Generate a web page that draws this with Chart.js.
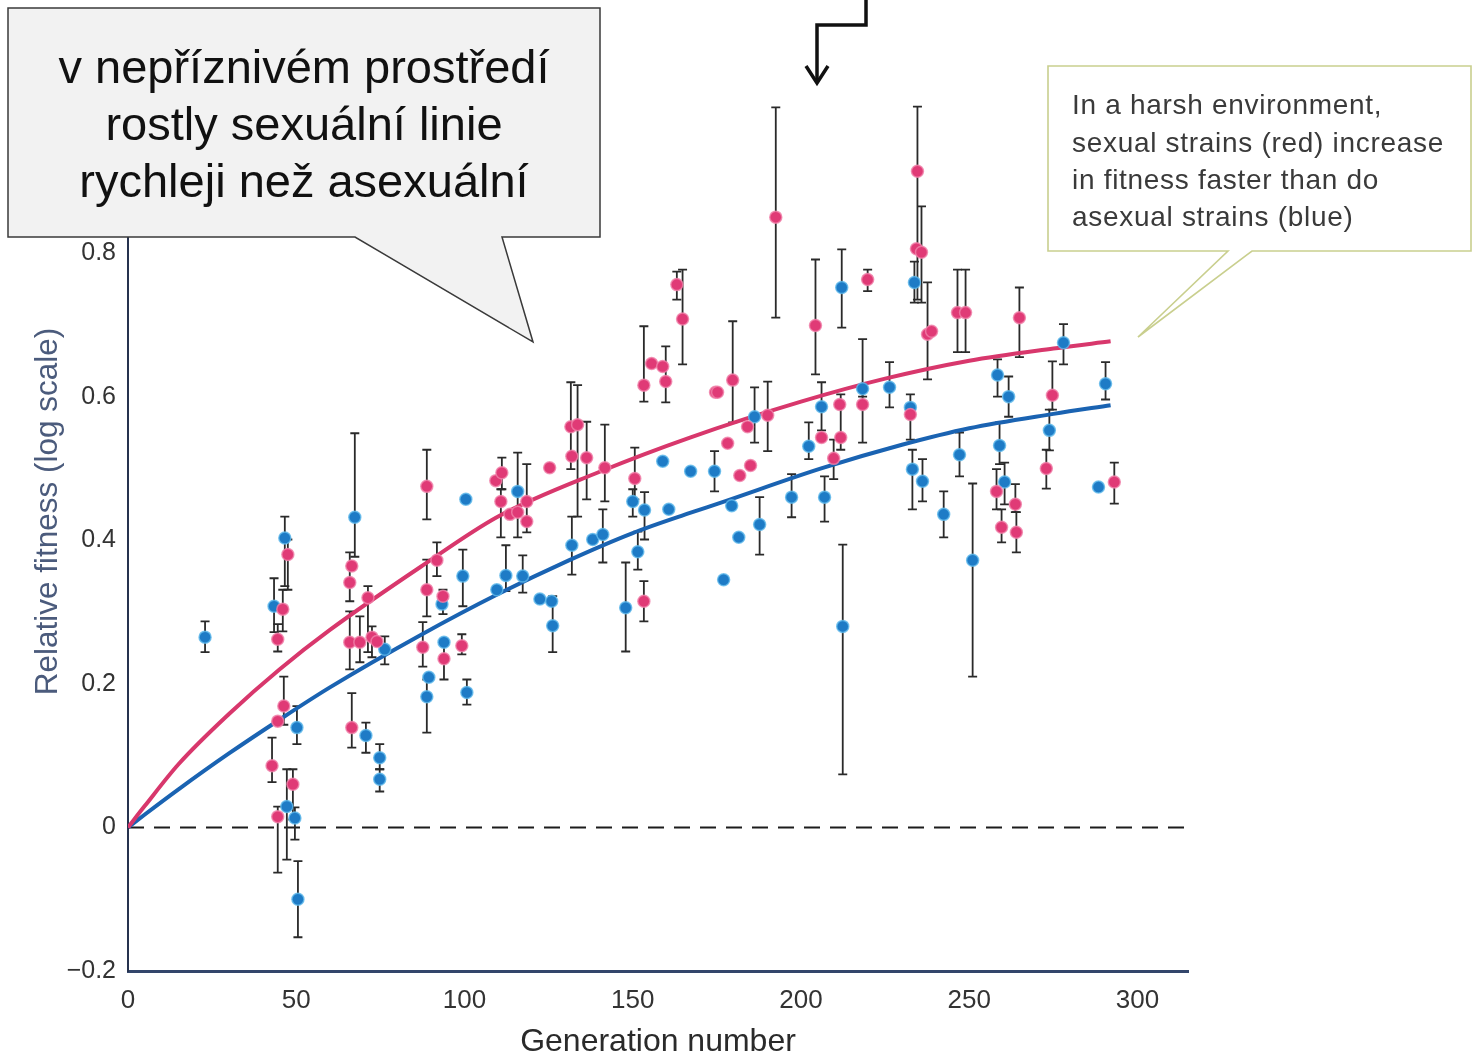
<!DOCTYPE html>
<html>
<head>
<meta charset="utf-8">
<title>Relative fitness vs generation</title>
<script src="https://cdn.jsdelivr.net/npm/chart.js@4.4.1/dist/chart.umd.min.js"></script>
<style>
  html, body { margin: 0; padding: 0; background: #fff; }
  #wrap { position: relative; width: 1473px; height: 1058px; overflow: hidden; }
  #wrap canvas { position: absolute; left: 0; top: 0; }
  #notes { position: absolute; left: 0; top: 0; pointer-events: none; }
</style>
</head>
<body>
<div id="wrap">
  <canvas id="fitnessChart" width="1473" height="1058"></canvas>
  <svg id="notes" width="1473" height="1058" xmlns="http://www.w3.org/2000/svg">
    <!-- arrow from the slide above -->
    <polyline points="866,0 866,25 817,25 817,82" fill="none" stroke="#111" stroke-width="3.5"/>
    <polyline points="806,66 817,83 828,66" fill="none" stroke="#111" stroke-width="3.5"/>

    <!-- Czech callout -->
    <path d="M8,8 L600,8 L600,237 L502,237 L533,342 L355,237 L8,237 Z" fill="#f2f2f2" stroke="#3a3a3a" stroke-width="1.5"/>
    <g font-family="'Liberation Sans', Arial, sans-serif" font-size="47" fill="#111" text-anchor="middle">
      <text x="304" y="83">v nepříznivém prostředí</text>
      <text x="304" y="140">rostly sexuální linie</text>
      <text x="304" y="197">rychleji než asexuální</text>
    </g>

    <!-- original caption -->
    <path d="M1048,66 L1471,66 L1471,251 L1252,251 L1138,337 L1228,251 L1048,251 Z" fill="#fff" stroke="#c9cf8e" stroke-width="1.6"/>
    <g font-family="'Liberation Sans', Arial, sans-serif" font-size="28" letter-spacing="0.7" fill="#3a3a3a">
      <text x="1072" y="114">In a harsh environment,</text>
      <text x="1072" y="152">sexual strains (red) increase</text>
      <text x="1072" y="189">in fitness faster than do</text>
      <text x="1072" y="226">asexual strains (blue)</text>
    </g>
  </svg>
</div>
<script>
// sexual strains (red): generation, fitness, error bar low / high
const sexGen  = [46.0, 44.5, 47.5, 46.3, 44.5, 42.8, 49.0, 44.5, 66.5, 65.9, 71.3, 65.9, 68.9, 72.5, 74.0, 66.5,
                 88.8, 88.8, 87.6, 91.8, 93.6, 93.9, 99.2, 109.3, 111.1, 110.8, 113.5, 115.8, 118.5, 118.5, 125.3,
                 131.6, 133.6, 131.9, 136.3, 141.7, 150.6, 153.3, 155.6, 153.3, 158.9, 159.8, 164.8, 163.1, 174.6,
                 192.5, 234.6, 234.3, 235.8, 219.8, 204.3, 237.6, 238.8, 246.5, 248.9, 179.7, 175.2, 184.1, 178.2,
                 181.8, 185.0, 190.1, 206.1, 211.5, 211.8, 209.7, 218.3, 232.5, 264.9, 274.7, 272.9, 293.1, 258.1,
                 263.7, 259.6, 264.0];
const sexFit  = [0.304, 0.262, 0.380, 0.169, 0.148, 0.086, 0.060, 0.015, 0.364, 0.341, 0.320, 0.258, 0.258, 0.265, 0.259, 0.139,
                 0.475, 0.331, 0.251, 0.372, 0.322, 0.235, 0.253, 0.483, 0.494, 0.454, 0.436, 0.439, 0.454, 0.426, 0.501,
                 0.558, 0.561, 0.517, 0.515, 0.501, 0.486, 0.315, 0.646, 0.616, 0.642, 0.621, 0.708, 0.756, 0.606,
                 0.850, 0.914, 0.806, 0.801, 0.763, 0.699, 0.687, 0.691, 0.717, 0.717, 0.623, 0.606, 0.558, 0.535,
                 0.490, 0.504, 0.574, 0.543, 0.589, 0.543, 0.514, 0.589, 0.575, 0.710, 0.602, 0.500, 0.481, 0.468,
                 0.450, 0.418, 0.411];
const sexLow  = [0.273, 0.245, 0.331, 0.143, null, 0.063, 0.011, -0.063, null, 0.315, 0.244, 0.220, 0.230, 0.237, null, 0.111,
                 0.429, 0.294, 0.224, 0.350, 0.297, 0.206, 0.241, null, 0.471, 0.404, null, null, 0.411, null, null,
                 0.499, 0.433, null, 0.457, 0.454, 0.457, 0.287, null, 0.593, null, 0.592, 0.645, 0.735, null,
                 0.710, 0.735, null, 0.731, 0.747, 0.631, 0.624, null, 0.662, 0.662, 0.564, null, null, null,
                 null, null, 0.524, null, null, 0.526, 0.485, 0.536, 0.540, 0.655, 0.582, 0.472, 0.451, 0.443,
                 0.439, 0.397, 0.383];
const sexHigh = [0.331, 0.283, 0.401, 0.210, null, 0.125, 0.081, 0.029, null, 0.383, 0.336, 0.301, 0.294, 0.280, null, 0.187,
                 0.526, 0.373, 0.286, 0.397, 0.331, 0.262, 0.269, null, 0.515, 0.471, null, null, 0.506, null, null,
                 0.620, 0.616, null, 0.565, 0.561, 0.529, 0.343, null, 0.698, null, 0.670, 0.777, 0.774, null,
                 1.003, 1.004, null, 0.865, 0.777, 0.791, 0.759, null, 0.777, 0.777, 0.705, null, null, null,
                 null, null, 0.621, null, null, 0.603, 0.540, 0.610, 0.603, 0.752, 0.649, 0.526, 0.508, 0.499,
                 0.478, 0.443, 0.439];

// asexual strains (blue)
const asexGen  = [22.9, 43.4, 46.6, 50.2, 47.2, 49.6, 50.5, 67.4, 76.3, 70.7, 74.8, 74.8, 89.4, 88.8, 93.3, 93.9,
                  99.5, 100.7, 100.4, 115.8, 109.6, 112.3, 117.3, 122.4, 125.9, 126.2, 150.0, 153.5, 158.9, 167.2,
                  174.3, 160.7, 131.9, 138.1, 141.1, 151.5, 147.9, 177.0, 233.7, 212.1, 186.2, 179.4, 181.5, 187.7,
                  197.2, 202.3, 206.1, 207.0, 218.3, 226.3, 232.5, 233.1, 236.1, 242.4, 247.1, 212.4, 278.0, 258.4,
                  261.7, 290.5, 273.8, 259.0, 288.4, 260.5, 251.0];
const asexFit  = [0.265, 0.308, 0.403, 0.139, 0.029, 0.013, -0.100, 0.432, 0.248, 0.128, 0.097, 0.067, 0.209, 0.182, 0.311, 0.258,
                  0.350, 0.188, 0.457, 0.468, 0.331, 0.351, 0.350, 0.318, 0.315, 0.281, 0.454, 0.442, 0.510, 0.496,
                  0.496, 0.443, 0.393, 0.401, 0.408, 0.384, 0.306, 0.345, 0.759, 0.752, 0.572, 0.448, 0.404, 0.422,
                  0.460, 0.531, 0.586, 0.460, 0.611, 0.613, 0.585, 0.499, 0.482, 0.436, 0.519, 0.280, 0.675, 0.630,
                  0.600, 0.618, 0.553, 0.532, 0.474, 0.481, 0.372];
const asexLow  = [0.244, 0.272, 0.336, 0.116, -0.045, -0.017, -0.153, 0.377, 0.227, 0.104, 0.081, 0.050, null, 0.132, null, null,
                  0.308, 0.171, null, 0.404, null, 0.329, 0.327, null, null, 0.244, 0.433, 0.401, null, null,
                  0.468, null, 0.352, null, 0.369, 0.359, 0.245, null, 0.731, 0.696, 0.536, null, null, 0.380,
                  0.432, 0.513, 0.553, 0.426, 0.600, 0.585, null, 0.443, 0.454, 0.404, 0.489, 0.074, 0.645, 0.600,
                  0.572, 0.596, 0.525, 0.506, null, 0.450, 0.210];
const asexHigh = [0.287, 0.347, 0.433, 0.169, 0.081, 0.028, -0.047, 0.549, 0.266, 0.146, 0.116, 0.081, null, 0.206, null, null,
                  0.387, 0.206, null, 0.522, null, 0.393, 0.379, null, null, 0.322, 0.471, 0.467, null, null,
                  0.524, null, 0.433, null, 0.443, 0.412, 0.369, null, 0.788, 0.805, 0.613, null, null, 0.460,
                  0.492, 0.564, 0.620, 0.489, 0.680, 0.648, null, 0.526, 0.513, 0.468, 0.550, 0.394, 0.701, 0.652,
                  0.628, 0.648, 0.582, 0.564, null, 0.508, 0.479];

// fitted curves
const sexCurveGen  = [0, 5, 15, 30, 45, 60, 87, 110, 140, 167, 200, 225, 250, 275, 292];
const sexCurveFit  = [0, 0.03, 0.088, 0.158, 0.22, 0.275, 0.363, 0.433, 0.495, 0.543, 0.593, 0.625, 0.65, 0.667, 0.677];
const asexCurveGen = [0, 5, 15, 30, 45, 60, 87, 110, 131, 150, 167, 176, 206, 230, 250, 275, 292];
const asexCurveFit = [0, 0.018, 0.053, 0.103, 0.15, 0.195, 0.268, 0.325, 0.372, 0.41, 0.438, 0.452, 0.5, 0.533, 0.556, 0.576, 0.588];

const xTickValues = [0, 50, 100, 150, 200, 250, 300];
const yTickValues = [-0.2, 0, 0.2, 0.4, 0.6, 0.8];
const zeroLine = 0;

const toPoints = (xs, ys) => xs.map((x, i) => ({ x: x, y: ys[i] }));
const font = "'Liberation Sans', Arial, sans-serif";

const errorBars = {
  id: 'errorBars',
  beforeDatasetsDraw(chart) {
    const { ctx, chartArea, scales: { x, y } } = chart;
    ctx.save();
    // dashed line at zero fitness
    const y0 = y.getPixelForValue(zeroLine);
    ctx.strokeStyle = '#1c1c1c';
    ctx.lineWidth = 2;
    ctx.setLineDash([16, 10]);
    ctx.beginPath();
    ctx.moveTo(chartArea.left, y0);
    ctx.lineTo(chartArea.right, y0);
    ctx.stroke();
    ctx.setLineDash([]);

    ctx.strokeStyle = '#2a2a2a';
    ctx.lineWidth = 1.8;
    [[sexGen, sexLow, sexHigh], [asexGen, asexLow, asexHigh]].forEach(([gen, low, high]) => {
      gen.forEach((g, i) => {
        if (low[i] === null) return;
        const px = x.getPixelForValue(g);
        const top = y.getPixelForValue(high[i]);
        const bot = y.getPixelForValue(low[i]);
        ctx.beginPath();
        ctx.moveTo(px, top); ctx.lineTo(px, bot);
        ctx.moveTo(px - 4.5, top); ctx.lineTo(px + 4.5, top);
        ctx.moveTo(px - 4.5, bot); ctx.lineTo(px + 4.5, bot);
        ctx.stroke();
      });
    });
    ctx.restore();
  }
};

new Chart(document.getElementById('fitnessChart'), {
  type: 'scatter',
  data: {
    datasets: [
      {
        label: 'Sexual strains',
        data: toPoints(sexGen, sexFit),
        backgroundColor: '#e03a76',
        borderColor: 'rgba(240,130,170,0.8)',
        borderWidth: 1.5,
        pointRadius: 6,
        order: 1
      },
      {
        label: 'Asexual strains',
        data: toPoints(asexGen, asexFit),
        backgroundColor: '#1e7bc6',
        borderColor: 'rgba(95,185,235,0.8)',
        borderWidth: 1.5,
        pointRadius: 6,
        order: 1
      },
      {
        type: 'line',
        label: 'Sexual fit',
        data: toPoints(sexCurveGen, sexCurveFit),
        borderColor: '#d8376c',
        borderWidth: 4,
        pointRadius: 0,
        fill: false,
        cubicInterpolationMode: 'monotone',
        order: 2
      },
      {
        type: 'line',
        label: 'Asexual fit',
        data: toPoints(asexCurveGen, asexCurveFit),
        borderColor: '#1a63b2',
        borderWidth: 4,
        pointRadius: 0,
        fill: false,
        cubicInterpolationMode: 'monotone',
        order: 2
      }
    ]
  },
  options: {
    responsive: false,
    animation: false,
    layout: { padding: { left: 0, right: 285, top: 52, bottom: 0 } },
    plugins: { legend: { display: false }, tooltip: { enabled: false } },
    scales: {
      x: {
        type: 'linear',
        min: 0,
        max: 315,
        afterBuildTicks: s => { s.ticks = xTickValues.map(v => ({ value: v })); },
        afterFit: s => { s.height = 87; },
        grid: { display: false, drawTicks: false },
        border: { color: '#33466b', width: 3 },
        ticks: { padding: 14, color: '#333', font: { family: font, size: 26 } },
        title: {
          display: true,
          text: 'Generation number',
          color: '#2a2a2a',
          font: { family: font, size: 32, lineHeight: 1 },
          padding: { top: 0, bottom: 0 }
        }
      },
      y: {
        type: 'linear',
        min: -0.2,
        max: 1.08,
        afterBuildTicks: s => { s.ticks = yTickValues.map(v => ({ value: v })); },
        afterFit: s => { s.width = 128; },
        grid: { display: false, drawTicks: false },
        border: { color: '#26324f', width: 2 },
        ticks: {
          padding: 12,
          color: '#333',
          font: { family: font, size: 25 },
          callback: v => v === 0 ? '0' : v.toFixed(1).replace('-', '\u2212')
        },
        title: {
          display: true,
          text: 'Relative fitness (log scale)',
          color: '#4b5b7c',
          font: { family: font, size: 31.5 },
          padding: { top: 29, bottom: 0 }
        }
      }
    }
  },
  plugins: [errorBars]
});
</script>
</body>
</html>
